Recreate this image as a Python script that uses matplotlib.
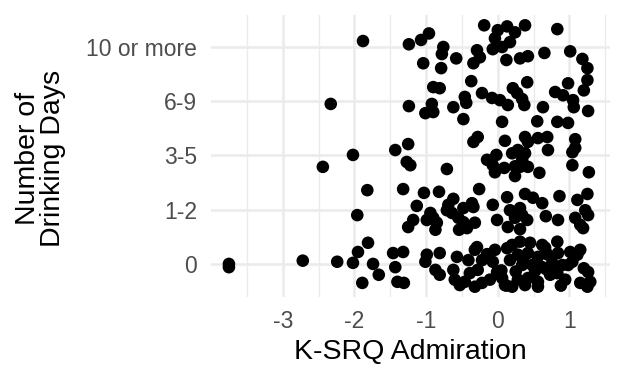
import matplotlib
matplotlib.use("Agg")
import matplotlib.pyplot as plt
import numpy as np

plt.rcParams['font.family'] = ['Liberation Sans', 'DejaVu Sans']

categories = ['0', '1-2', '3-5', '6-9', '10 or more']
x_ticks = [-3, -2, -1, 0, 1]

# jittered positions: (K-SRQ Admiration, drinking-days category + jitter)
admiration = [
    # 10 or more
    -1.88, -1.24, -1.07, -0.96, -0.76, -0.78, -0.58, -1.04, -0.79, -0.29, -0.25, -0.34,
    -0.19, 0.00, 0.13, 0.24, 0.17, -0.04, -0.07, 0.06, 0.12, 0.38, 0.83, 0.31, 0.42,
    0.65, 1.01, 1.18, 1.25, 1.25, 1.20,
    # 6-9
    -0.37, 0.41, 0.98, -0.90, -0.81, -0.22, 0.21, 0.27, 0.80, 0.91, -2.33, -1.24,
    -0.92, -1.01, -0.90, -0.62, -0.46, -0.44, -0.08, 0.03, 0.14, 0.34, 0.37, 0.63,
    1.05, 1.06, 1.26, -0.48, 0.06, 0.55, 0.83, 0.98,
    # 3-5
    -0.28, -0.34, 0.10, 0.38, 0.42, 0.56, 0.69, 1.08, -1.25, -1.43, -2.02, -2.44,
    -1.27, -1.22, -0.71, -0.15, -0.02, -0.07, -0.04, 0.09, 0.20, 0.28, 0.38, 0.34,
    0.24, 0.31, 0.42, 0.24, 0.70, 0.58, 1.04, 1.08, 1.04, 1.27,
    # 1-2
    -1.82, -1.32, -1.03, -0.82, -0.26, -0.62, -0.69, -0.71, -0.64, -1.13, -0.94, -0.90,
    -0.99, -0.36, -0.34, -0.48, -0.07, 0.13, 0.38, 0.49, 0.62, 0.17, 0.31, 0.24, 0.34,
    0.41, 0.86, 1.25, 1.11, 1.22, 1.26, 1.08, 1.15, 1.19, -1.96, -1.18, -1.25, -0.55,
    -0.48, -0.54, -0.43, -0.32, -0.85, -0.87, -0.01, 0.14, 0.31, 0.67, 0.84,
    # 0
    -3.75, -3.75, -2.72, -2.24, -2.02, -1.81, -1.95, -1.74, -1.66, -1.89, -1.46, -1.32,
    -1.43, -1.40, -1.31, -0.99, -0.81, -1.01, -0.87, -0.81, -0.57, -0.62, -0.60, -0.53,
    -0.41, -0.32, -0.29, -0.22, -0.28, -0.39, -0.46, -0.22, -0.32, -0.04, -0.07, -0.01,
    -0.11, 0.06, 0.13, 0.17, 0.10, 0.20, 0.20, 0.31, 0.45, 0.62, 0.83, 0.28, 0.42,
    0.56, 0.70, 0.84, 1.01, 1.15, 0.34, 0.48, 0.62, 0.76, 0.90, 1.04, 0.28, 0.42, 0.56,
    0.73, 0.83, 0.38, 0.56, 0.94, 1.15, 1.26, 1.29, 1.25, 1.11, 0.98,
    0.05, 0.25, 0.52, 0.68, 0.12, 0.88, 1.20, -0.15, 0.35, 0.66,
]
drinking_days = [
    # 10 or more
    4.11, 4.05, 4.13, 4.25, 4.00, 3.87, 3.79, 3.70, 3.61, 3.94, 3.81, 3.70,
    4.40, 4.31, 4.38, 4.27, 4.09, 4.16, 3.96, 4.00, 3.76, 4.40, 4.33, 3.79, 3.83,
    3.89, 3.92, 3.78, 3.61, 3.39, 3.20,
    # 6-9
    3.37, 3.35, 3.33, 3.26, 3.24, 3.15, 3.24, 3.15, 3.17, 3.11, 2.95, 2.91,
    2.95, 2.78, 2.80, 2.89, 3.08, 2.97, 3.06, 3.02, 2.93, 3.04, 2.93, 2.89,
    3.02, 2.89, 2.82, 2.67, 2.62, 2.63, 2.62, 2.60,
    # 3-5
    2.34, 2.25, 2.27, 2.34, 2.25, 2.32, 2.34, 2.30, 2.21, 2.10, 2.01, 1.79,
    1.88, 1.82, 1.75, 1.92, 2.01, 1.82, 1.69, 1.77, 2.04, 2.10, 2.04, 1.92,
    1.80, 1.79, 1.79, 1.62, 2.10, 1.68, 2.06, 2.14, 1.82, 1.69,
    # 1-2
    1.36, 1.38, 1.31, 1.33, 1.38, 1.20, 1.09, 0.99, 0.94, 1.07, 0.94, 0.85,
    0.81, 1.12, 1.05, 1.03, 1.09, 1.23, 1.29, 1.22, 1.12, 0.99, 1.03, 0.85, 0.90,
    0.81, 1.25, 1.29, 1.18, 0.99, 0.90, 0.85, 0.72, 0.66, 0.90, 0.81, 0.68, 0.85,
    0.77, 0.63, 0.66, 0.76, 0.76, 0.63, 0.81, 0.68, 0.64, 0.88, 0.81,
    # 0
    0.00, -0.06, 0.06, 0.04, 0.02, 0.39, 0.22, 0.00, -0.20, -0.35, 0.20, 0.22,
    -0.06, -0.33, -0.35, 0.17, 0.20, 0.04, -0.11, -0.20, 0.13, -0.11, -0.29, -0.39,
    0.07, 0.26, 0.31, 0.07, -0.11, -0.17, -0.33, -0.35, -0.42, 0.26, 0.04, -0.15,
    -0.29, -0.26, 0.29, 0.07, -0.39, -0.42, 0.35, 0.41, 0.39, 0.35, 0.41, 0.17, 0.20,
    0.13, 0.17, 0.20, 0.22, 0.26, -0.02, -0.02, -0.06, 0.02, -0.02, 0.04, -0.29, -0.26, -0.33,
    -0.20, -0.17, -0.39, -0.42, -0.29, -0.35, -0.15, -0.33, -0.42, 0.17, -0.02,
    -0.12, -0.14, -0.13, -0.10, -0.40, -0.40, -0.08, 0.18, 0.08, 0.30,
]

W, H = 624, 384
fig = plt.figure(figsize=(W / 100, H / 100), dpi=100)
left, right, top, bottom = 211, 610, 15, 297
ax = fig.add_axes([left / W, 1 - bottom / H, (right - left) / W, (bottom - top) / H])

ax.set_xlim(-4.0, 1.565)
ax.set_ylim(-0.61, 4.59)

# grid
grid_col = '#EBEBEB'
for v in np.arange(-3.5, 1.6, 1.0):
    ax.axvline(v, color=grid_col, lw=1.0, zorder=0)
for v in x_ticks:
    ax.axvline(v, color=grid_col, lw=1.8, zorder=0)
for v in range(len(categories)):
    ax.axhline(v, color=grid_col, lw=1.8, zorder=0)

ax.scatter(admiration, drinking_days, s=82, color='black', edgecolors='none', zorder=3)

for s in ax.spines.values():
    s.set_visible(False)

ax.set_xticks(x_ticks)
ax.set_xticklabels([str(t) for t in x_ticks])
ax.set_yticks(range(len(categories)))
ax.set_yticklabels(categories)
ax.tick_params(axis='both', length=0, labelsize=16.5, labelcolor='#4D4D4D')
ax.tick_params(axis='x', pad=9)
ax.tick_params(axis='y', pad=10)

fig.text((left + right) / 2 / W, 1 - 352 / H, 'K-SRQ Admiration', ha='center', va='center',
         fontsize=20.5, color='black')
fig.text(41 / W, 1 - 158 / H, 'Number of\nDrinking Days', ha='center', va='center',
         rotation=90, fontsize=20.5, color='black', linespacing=0.95, multialignment='center')

fig.savefig('out.png', dpi=100)
